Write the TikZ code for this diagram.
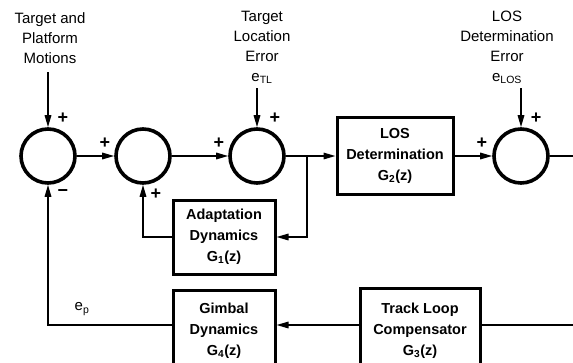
\documentclass[tikz,border=0pt]{standalone}
\usepackage{fontspec}
\setmainfont{Liberation Sans}
\usetikzlibrary{arrows.meta}
\begin{document}
\begin{tikzpicture}[x=1pt,y=-1pt,
    sumj/.style={circle,draw,line width=3.6pt,minimum size=54pt,inner sep=0pt},
    blk/.style={draw,line width=3pt,align=center,inner sep=0pt,
                font=\bfseries\fontsize{14.5}{21}\selectfont},
    lbl/.style={align=center,font=\fontsize{15}{20}\selectfont},
    sgn/.style={inner sep=0pt,font=\bfseries\fontsize{18}{18}\selectfont},
    sig/.style={line width=1.6pt,-{Triangle[length=12pt,width=6.5pt]}},
    wire/.style={line width=1.6pt}]

        \clip (0,0) rectangle (573,362);

        %summing junctions
        \node[sumj] (s1) at (48,156)  {};
        \node[sumj] (s2) at (143,156) {};
        \node[sumj] (s3) at (257,156) {};
        \node[sumj] (s4) at (521,156) {};

        %blocks
        \node[blk,minimum width=116pt,minimum height=77pt] (los) at (395,156) {LOS\\Determination\\G\textsubscript{2}(z)};
        \node[blk,minimum width=102pt,minimum height=74pt] (adp) at (224,237) {Adaptation\\Dynamics\\G\textsubscript{1}(z)};
        \node[blk,minimum width=102pt,minimum height=82pt] (gmb) at (224,331) {Gimbal\\Dynamics\\G\textsubscript{4}(z)};
        \node[blk,minimum width=120pt,minimum height=86pt] (trk) at (420,331) {Track Loop\\Compensator\\G\textsubscript{3}(z)};

        %inputs
        \node[lbl] (tpm) at (50,38)  {Target and\\Platform\\Motions};
        \node[lbl] (etl) at (262,47) {Target\\Location\\Error\\e\textsubscript{TL}};
        \node[lbl] (elos) at (507,47) {LOS\\Determination\\Error\\e\textsubscript{LOS}};
        \coordinate (in1) at (48,72);
        \coordinate (in3) at (257,88);
        \coordinate (in4) at (521,88);

        %free ends and branch
        \coordinate (br) at (307,156);
        \coordinate (out) at (574,156);
        \coordinate (ret) at (574,325);

        %forward path
        \draw[sig] (in1) -- (s1.north);
        \draw[sig] (in3) -- (s3.north);
        \draw[sig] (in4) -- (s4.north);
        \draw[sig] (s1) -- (s2);
        \draw[sig] (s2) -- (s3);
        \draw[sig] (s3) -- (los);
        \draw[sig] (los) -- (s4);
        \draw[wire] (s4) -- (out);

        %feedback paths
        \draw[sig] (br) |- (adp.east);
        \draw[sig] (adp.west) -| (s2.south);
        \draw[wire] (ret) -- (trk.east |- ret);
        \draw[sig] (trk.west |- ret) -- (gmb.east |- ret);
        \draw[sig] (gmb.west |- ret) -| (s1.south);

        %signs
        \node[sgn] (p1) at (63,118)  {+};
        \node[sgn] (p2) at (105,143) {+};
        \node[sgn] (p3) at (219,143) {+};
        \node[sgn] (p4) at (275,118) {+};
        \node[sgn] (p5) at (482,143) {+};
        \node[sgn] (p6) at (536,118) {+};
        \node[sgn] (p7) at (156,194) {+};
        \node[sgn] (m1) at (63,193)  {\textminus};
        \node[lbl] (ep) at (82,309)  {e\textsubscript{p}};

\end{tikzpicture}
\end{document}
